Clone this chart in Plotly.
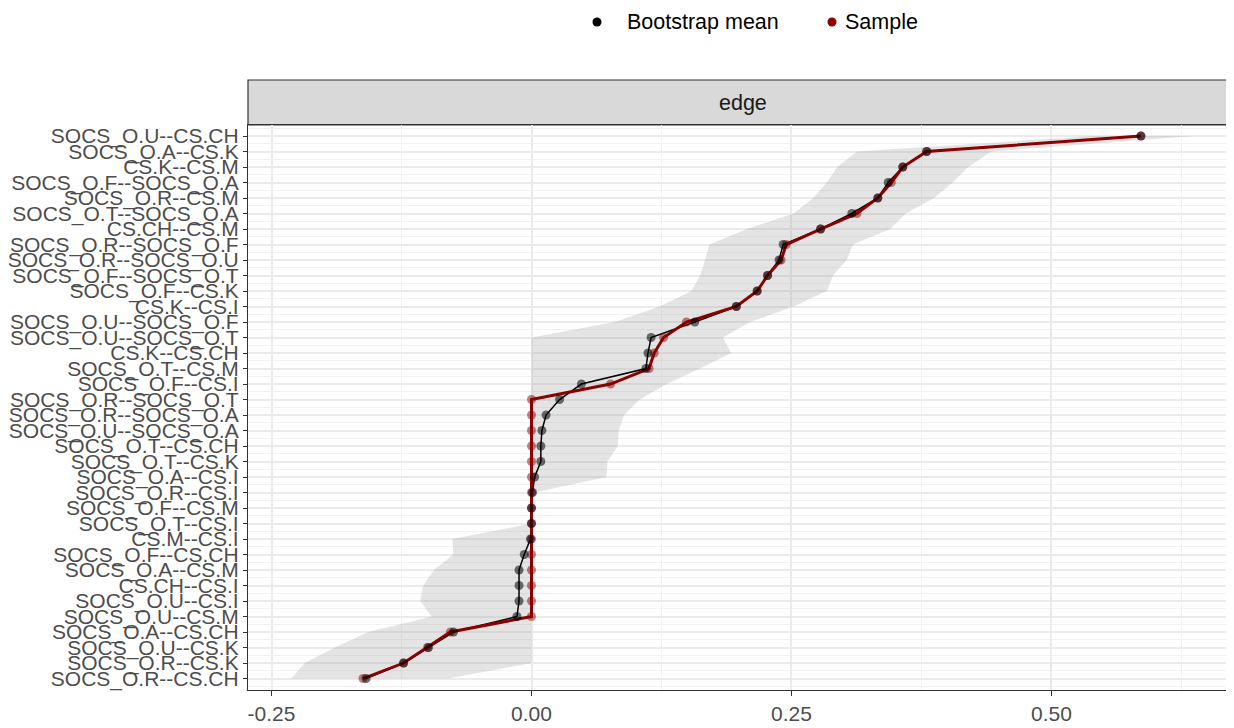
import plotly.graph_objects as go

edges = [
    "SOCS_O.U--CS.CH", "SOCS_O.A--CS.K", "CS.K--CS.M", "SOCS_O.F--SOCS_O.A",
    "SOCS_O.R--CS.M", "SOCS_O.T--SOCS_O.A", "CS.CH--CS.M", "SOCS_O.R--SOCS_O.F",
    "SOCS_O.R--SOCS_O.U", "SOCS_O.F--SOCS_O.T", "SOCS_O.F--CS.K", "CS.K--CS.I",
    "SOCS_O.U--SOCS_O.F", "SOCS_O.U--SOCS_O.T", "CS.K--CS.CH", "SOCS_O.T--CS.M",
    "SOCS_O.F--CS.I", "SOCS_O.R--SOCS_O.T", "SOCS_O.R--SOCS_O.A", "SOCS_O.U--SOCS_O.A",
    "SOCS_O.T--CS.CH", "SOCS_O.T--CS.K", "SOCS_O.A--CS.I", "SOCS_O.R--CS.I",
    "SOCS_O.F--CS.M", "SOCS_O.T--CS.I", "CS.M--CS.I", "SOCS_O.F--CS.CH",
    "SOCS_O.A--CS.M", "CS.CH--CS.I", "SOCS_O.U--CS.I", "SOCS_O.U--CS.M",
    "SOCS_O.A--CS.CH", "SOCS_O.U--CS.K", "SOCS_O.R--CS.K", "SOCS_O.R--CS.CH",
]

sample = [0.586, 0.380, 0.357, 0.346, 0.333, 0.313, 0.278, 0.245, 0.240, 0.227,
          0.217, 0.197, 0.149, 0.127, 0.118, 0.113, 0.076, 0.0, 0.0, 0.0,
          0.0, 0.0, 0.0, 0.0, 0.0, 0.0, 0.0, 0.0, 0.0, 0.0,
          0.0, 0.0, -0.078, -0.100, -0.123, -0.162]

boot_mean = [0.586, 0.380, 0.357, 0.343, 0.333, 0.308, 0.278, 0.242, 0.238, 0.227,
             0.217, 0.197, 0.157, 0.115, 0.112, 0.110, 0.048, 0.027, 0.014, 0.010,
             0.009, 0.009, 0.003, 0.001, 0.000, 0.000, -0.001, -0.007, -0.012, -0.012,
             -0.012, -0.014, -0.075, -0.099, -0.123, -0.159]

lower = [0.54, 0.313, 0.294, 0.284, 0.271, 0.252, 0.207, 0.171, 0.167, 0.162,
         0.154, 0.123, 0.080, 0.0, 0.0, 0.0, 0.0, 0.0, 0.0, 0.0,
         0.0, 0.0, 0.0, 0.0, 0.0, 0.0, -0.076, -0.075, -0.094, -0.104,
         -0.107, -0.096, -0.157, -0.189, -0.218, -0.231]

upper = [0.637, 0.442, 0.420, 0.405, 0.387, 0.360, 0.345, 0.309, 0.303, 0.290,
         0.284, 0.252, 0.210, 0.184, 0.192, 0.162, 0.130, 0.104, 0.089, 0.084,
         0.083, 0.073, 0.072, 0.003, 0.0, 0.0, 0.0, 0.0, 0.0, 0.0,
         0.0, 0.0, 0.0, 0.0, 0.0, -0.080]

x_ticks = [-0.25, 0.0, 0.25, 0.5]
x_tick_labels = ["-0.25", "0.00", "0.25", "0.50"]

legend_names = ["Bootstrap mean", "Sample"]
legend_colors = ["black", "#8B0000"]

idx = list(range(len(edges)))
FONT = "Liberation Sans, Arial, sans-serif"
FS = 21.5

# page body adds an 8px offset
OFF = 8
W, H = 1234 - OFF, 728 - OFF
L, T = 248 - OFF, 125 - OFF
R = 0
B = H - (690 - OFF)
PW = W - L - R
PH = H - T - B


def px_x(px):
    return (px - 248) / PW


def px_y(py):
    return (690 - py) / PH


fig = go.Figure()

# CI ribbon
fig.add_trace(go.Scatter(
    x=upper + lower[::-1], y=idx + idx[::-1], fill="toself",
    fillcolor="rgba(150,150,150,0.26)", line=dict(width=0), mode="lines",
    hoverinfo="skip", showlegend=False))

# lines
fig.add_trace(go.Scatter(x=boot_mean, y=idx, mode="lines",
                         line=dict(color="black", width=1.5), showlegend=False))
fig.add_trace(go.Scatter(x=sample, y=idx, mode="lines",
                         line=dict(color="#8B0000", width=3), showlegend=False))
# points
fig.add_trace(go.Scatter(x=sample, y=idx, mode="markers",
                         marker=dict(color="rgba(139,0,0,0.5)", size=9,
                                     line=dict(width=0)), showlegend=False))
fig.add_trace(go.Scatter(x=boot_mean, y=idx, mode="markers",
                         marker=dict(color="rgba(0,0,0,0.55)", size=9,
                                     line=dict(width=0)), showlegend=False))

shapes = [dict(type="rect", xref="paper", yref="paper", x0=0, x1=1.02,
               y0=1, y1=px_y(80), fillcolor="#d9d9d9",
               line=dict(color="#333333", width=1.2), layer="below")]
annotations = [dict(text="edge", xref="paper", yref="paper", x=px_x(743),
                    y=px_y(103), showarrow=False, xanchor="center", yanchor="middle",
                    font=dict(size=FS, color="#1a1a1a"))]

# manual legend
leg_dot_px = [597, 832]
leg_text_px = [625, 843]
for name, col, dx, tx in zip(legend_names, legend_colors, leg_dot_px, leg_text_px):
    shapes.append(dict(type="circle", xref="paper", yref="paper",
                       xsizemode="pixel", ysizemode="pixel",
                       xanchor=px_x(dx), yanchor=px_y(22),
                       x0=-4.5, x1=4.5, y0=-4.5, y1=4.5,
                       fillcolor=col, line=dict(width=0)))
    annotations.append(dict(text=name, xref="paper", yref="paper", x=px_x(tx),
                            y=px_y(22), xanchor="left", yanchor="middle",
                            showarrow=False, font=dict(size=FS, color="black")))

fig.update_layout(
    width=W, height=H, autosize=False,
    margin=dict(l=L, r=R, t=T, b=B, autoexpand=False),
    paper_bgcolor="white", plot_bgcolor="white",
    font=dict(family=FONT, size=FS, color="#4d4d4d"),
    showlegend=False,
    xaxis=dict(range=[-0.2726, 0.6755], tickvals=x_ticks, ticktext=x_tick_labels,
               automargin=False,
               showgrid=True, gridcolor="#ebebeb", gridwidth=1.5,
               minor=dict(dtick=0.125, tick0=-0.125, showgrid=True, gridcolor="#f2f2f2", gridwidth=1),
               zeroline=False, showline=True, mirror=True, linecolor="#333333", linewidth=1.2,
               ticks="outside", ticklen=5, tickcolor="#333333",
               tickfont=dict(size=21, color="#4d4d4d")),
    yaxis=dict(range=[35.74, -0.71], tickvals=idx, ticktext=edges,
               automargin=False,
               showgrid=True, gridcolor="#ebebeb", gridwidth=1.5,
               minor=dict(dtick=1, tick0=0.5, showgrid=True, gridcolor="#f2f2f2", gridwidth=1),
               zeroline=False, showline=True, mirror=True, linecolor="#333333", linewidth=1.2,
               ticks="outside", ticklen=4, tickcolor="#333333",
               tickfont=dict(size=21, color="#4d4d4d")),
    shapes=shapes,
    annotations=annotations,
)

fig.write_html("out.html", config={"responsive": False})
